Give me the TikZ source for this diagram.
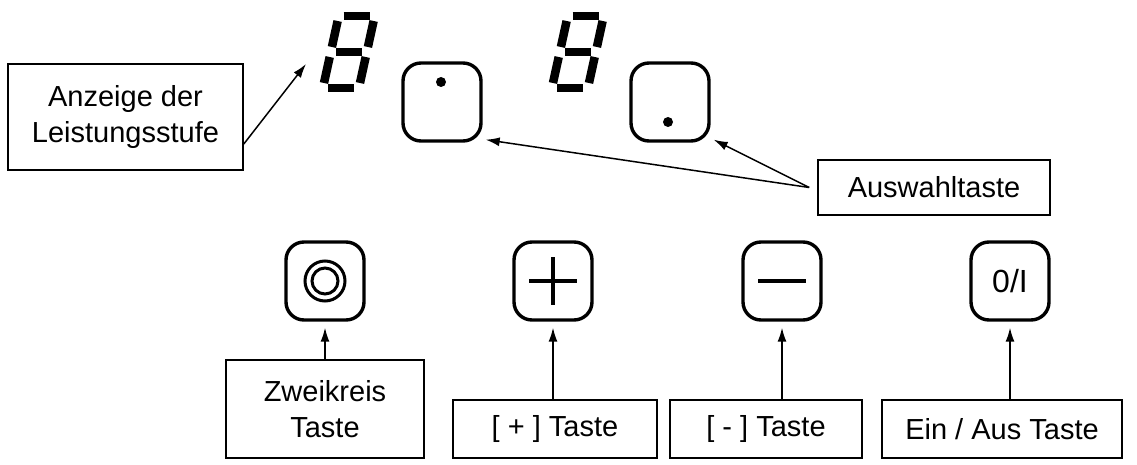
\documentclass[tikz,border=0pt]{standalone}
\usepackage{fontspec}
\setmainfont{Liberation Sans}
\usetikzlibrary{arrows.meta,positioning,calc}

\tikzset{
  lbox/.style={draw,line width=1.6pt,align=center,inner sep=0pt,font=\fontsize{29}{36}\selectfont},
  key/.style={draw,line width=3.4pt,rounded corners=18pt,minimum width=78pt,minimum height=78pt,inner sep=0pt},
  ptr/.style={-{Latex[length=14pt,width=9pt]},line width=1.5pt},
  seg/.style={line width=8.5pt,line cap=butt}
}

% seven segment digit "8" with lower left corner at #1
\newcommand{\segdigit}[1]{%
  \begin{scope}[shift={#1},xslant=0.22]
    \draw[seg] (9,-4) -- (35,-4);
    \draw[seg] (9,-40) -- (35,-40);
    \draw[seg] (9,-76) -- (35,-76);
    \draw[seg] (4,-9) -- (4,-35);
    \draw[seg] (4,-45) -- (4,-71);
    \draw[seg] (40,-9) -- (40,-35);
    \draw[seg] (40,-45) -- (40,-71);
  \end{scope}}

\begin{document}
\begin{tikzpicture}[x=1pt,y=-1pt]
  \useasboundingbox (0,0) rectangle (1137,465);

  % displays
  \segdigit{(318,92)}
  \segdigit{(547,92)}

  % selection keys
  \node[key] (sel1) at (442,102) {};
  \fill (441,82) circle (5);
  \node[key] (sel2) at (670,102) {};
  \fill (668,122) circle (5);

  % display label
  \node[lbox,minimum width=235pt,minimum height=106pt] (disp) at (125.5,117) {Anzeige der\\Leistungsstufe};
  \coordinate (dig1) at (306,64);
  \draw[ptr] ([yshift=-27]disp.east) -- (dig1);

  % selection label
  \node[lbox,minimum width=232pt,minimum height=55pt] (sel) at (934,187.5) {Auswahltaste};
  \coordinate (selin) at ($(sel.west)+(-8,0)$);
  \draw[ptr] (selin) -- ([shift={(3,-3)}]sel1.south east);
  \draw[ptr] (selin) -- ([shift={(3,-3)}]sel2.south east);

  % lower keys
  \node[key] (dual) at (325,281) {};
  \draw[line width=3pt] (dual) circle (20) (dual) circle (13);
  \node[key] (plus) at (553,281) {};
  \draw[line width=3.4pt] (plus.center) ++(-24,0) -- ++(48,0) (plus.center) ++(0,-24) -- ++(0,48);
  \node[key] (minus) at (782,281) {};
  \draw[line width=3.4pt] (minus.center) ++(-24,0) -- ++(48,0);
  \node[key,font=\fontsize{32}{32}\selectfont] (onoff) at (1010,281) {0/I};

  % lower labels
  \node[lbox,minimum width=198pt,minimum height=98pt] (dualtxt) at (325,409) {Zweikreis\\Taste};
  \node[lbox,minimum width=204pt,minimum height=58pt] (plustxt) at (555,429) {[ + ] Taste};
  \node[lbox,minimum width=192pt,minimum height=58pt] (minustxt) at (766,429) {[ - ] Taste};
  \node[lbox,minimum width=240pt,minimum height=58pt] (onofftxt) at (1002,429) {Ein / Aus Taste};

  \foreach \k/\t in {dual/dualtxt,plus/plustxt,minus/minustxt,onoff/onofftxt}
    \draw[ptr] (\t.north -| \k) -- ([yshift=-6]\k.south);
\end{tikzpicture}
\end{document}
